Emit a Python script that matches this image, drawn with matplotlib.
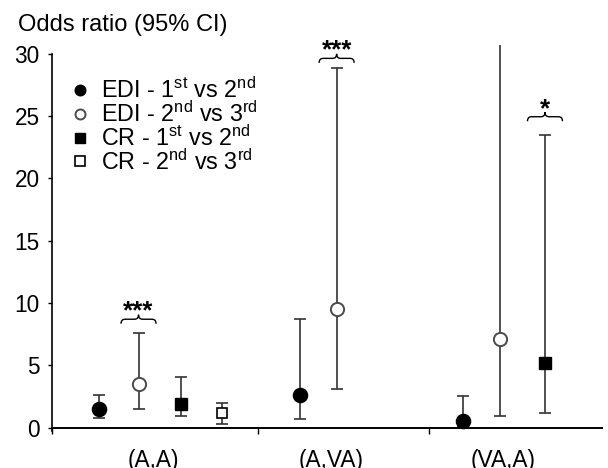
import numpy as np
import matplotlib
matplotlib.use("Agg")
import matplotlib.pyplot as plt
from matplotlib.path import Path
from matplotlib.patches import PathPatch
from matplotlib.lines import Line2D
import matplotlib.transforms as mtransforms

plt.rcParams['font.family'] = ['Liberation Sans', 'DejaVu Sans']
plt.rcParams['mathtext.fontset'] = 'custom'
plt.rcParams['mathtext.rm'] = 'Liberation Sans'
plt.rcParams['mathtext.it'] = 'Liberation Sans'

# ---------------- data ----------------
categories = ["(A,A)", "(A,VA)", "(VA,A)"]
series_labels = [r"EDI - 1$^{\rm st}$ vs 2$^{\rm nd}$",
                 r"EDI - 2$^{\rm nd}$ vs 3$^{\rm rd}$",
                 r"CR - 1$^{\rm st}$ vs 2$^{\rm nd}$",
                 r"CR - 2$^{\rm nd}$ vs 3$^{\rm rd}$"]
nan = np.nan
edi12_or = [1.52, 2.62, 0.54]
edi12_lo = [0.80, 0.70, 0.05]
edi12_hi = [2.65, 8.72, 2.54]
edi23_or = [3.48, 9.54, 7.11]
edi23_lo = [1.47, 3.13, 0.96]
edi23_hi = [7.57, 28.87, 40.0]
cr12_or = [1.90, nan, 5.21]
cr12_lo = [0.96, nan, 1.15]
cr12_hi = [4.09, nan, 23.47]
cr23_or = [1.20, nan, nan]
cr23_lo = [0.27, nan, nan]
cr23_hi = [2.00, nan, nan]
yticks = [0, 5, 10, 15, 20, 25, 30]
# significance marks: (series index, category index, brace y, label)
sig_marks = [(1, 0, 8.70, "***"), (1, 1, 29.62, "***"), (2, 2, 24.94, "*")]

# ---------------- layout (positions/styles) ----------------
x_positions = [
    [0.575, 1.749, 2.700],
    [0.805, 1.961, 2.916],
    [1.050, np.nan, 3.177],
    [1.290, np.nan, np.nan],
]
label_x = [0.89, 1.93, 2.93]
styles = [
    dict(marker='o', ms=10.2, mfc='black', mec='black', mew=1.0),
    dict(marker='o', ms=9.5, mfc='white', mec='#4a4a4a', mew=1.4),
    dict(marker='s', ms=9.0, mfc='black', mec='black', mew=1.0),
    dict(marker='s', ms=6.8, mfc='white', mec='black', mew=1.2),
]
legend_ms = [7.6, 7.2, 7.0, 7.0]
series = [(edi12_or, edi12_lo, edi12_hi), (edi23_or, edi23_lo, edi23_hi),
          (cr12_or, cr12_lo, cr12_hi), (cr23_or, cr23_lo, cr23_hi)]

FS = 16.3
fig = plt.figure(figsize=(6.08, 4.68), dpi=100)
ax = fig.add_axes([52/608, 1-427.7/468, (601.7-52)/608, (427.7-44.9)/468])
ax.set_xlim(0.30, 3.508)
ax.set_ylim(0, 30.7)

line_col = '#333333'
for (orv, lo, hi), xs, st in zip(series, x_positions, styles):
    orv = np.array(orv, float); lo = np.array(lo, float); hi = np.array(hi, float)
    xs = np.array(xs, float)
    m = ~np.isnan(orv)
    yerr = np.vstack([orv[m] - lo[m], hi[m] - orv[m]])
    ax.errorbar(xs[m], orv[m], yerr=yerr, fmt='none', ecolor=line_col,
                elinewidth=1.2, capsize=4, capthick=1.2, zorder=2)
    ax.plot(xs[m], orv[m], linestyle='none', zorder=3, clip_on=False, **st)

# legend
handles = []
for st, lms in zip(styles, legend_ms):
    d = dict(st); d['ms'] = lms
    handles.append(Line2D([], [], linestyle='none', **d))
leg = ax.legend(handles, series_labels, loc='upper left',
                bbox_to_anchor=(0.038, 0.915), frameon=False, fontsize=16.8,
                handlelength=0.6, handletextpad=0.6, labelspacing=-0.08,
                borderpad=0.0, borderaxespad=0.0)

# braces and stars
def draw_brace(x, y, w=17.5, h=4.5):
    # w, h in pixels; path drawn relative to the data point (x, y)
    verts = [(-w, -h), (-w, 0), (-w + 4, 0), (-4, 0), (0, 0), (0, h),
             (0, 0), (4, 0), (w - 4, 0), (w, 0), (w, -h)]
    codes = [Path.MOVETO, Path.CURVE3, Path.CURVE3, Path.LINETO,
             Path.CURVE3, Path.CURVE3, Path.CURVE3, Path.CURVE3,
             Path.LINETO, Path.CURVE3, Path.CURVE3]
    tr = mtransforms.Affine2D() + mtransforms.ScaledTranslation(x, y, ax.transData)
    p = PathPatch(Path(verts, codes), facecolor='none', edgecolor='black',
                  lw=1.0, transform=tr, clip_on=False)
    ax.add_patch(p)

for si, ci, by, lab in sig_marks:
    x = x_positions[si][ci]
    draw_brace(x, by)
    ax.annotate(lab, xy=(x, by), xytext=(0, 0.5), textcoords='offset points',
                ha='center', va='baseline', fontsize=18.5, fontweight='bold',
                annotation_clip=False)

# axes styling
for s in ['top', 'right']:
    ax.spines[s].set_visible(False)
ax.spines['left'].set_bounds(-0.25, 30)
ax.spines['left'].set_linewidth(1.2)
ax.spines['bottom'].set_linewidth(1.4)
ax.set_yticks(yticks)
ax.set_yticklabels([str(v) for v in yticks], fontsize=FS)
ax.tick_params(axis='y', direction='out', length=3, width=1.0, pad=6)
ax.set_xticks([0.30, 1.5, 2.5])
ax.set_xticklabels([])
ax.tick_params(axis='x', direction='out', length=4, width=1.0)
xtr = mtransforms.blended_transform_factory(ax.transData, fig.transFigure)
for lx, cat in zip(label_x, categories):
    ax.text(lx, 1 - 460/468, cat, transform=xtr, ha='center', va='center',
            fontsize=FS, clip_on=False)

fig.text(18/608, 1 - 25/468, "Odds ratio (95% CI)", ha='left', va='center',
         fontsize=17)

fig.savefig("out.png", dpi=100)
